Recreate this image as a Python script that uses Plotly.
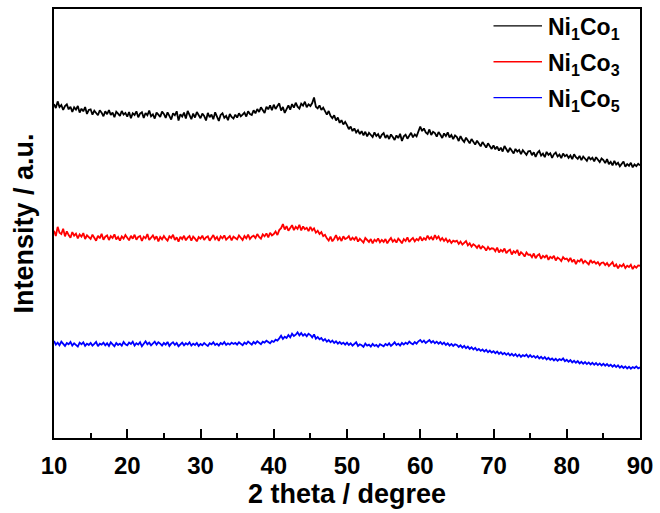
import plotly.graph_objects as go

# 2-theta sampling grid (degrees), 0.25 degree step from 10 to 90
two_theta = [10 + 0.25 * i for i in range(321)]

# Intensities (a.u.), one value per 0.25 degree (20 per 5 degrees)
ni1co1 = [
    1012, 1000, 1020, 1003, 1009, 994, 1006, 1011, 996, 1004, 988, 1002, 995, 1006, 986, 998, 990, 1003, 982, 994,
    996, 980, 992, 984, 978, 993, 986, 975, 990, 981, 994, 979, 986, 972, 989, 983, 976, 991, 980, 985,
    974, 988, 969, 984, 979, 990, 972, 983, 987, 970, 985, 978, 992, 975, 981, 968, 986, 980, 973, 989,
    982, 970, 987, 976, 965, 984, 978, 990, 962, 981, 974, 986, 968, 991, 977, 966, 983, 971, 988, 976,
    969, 983, 976, 962, 985, 972, 980, 966, 987, 974, 961, 979, 984, 970, 976, 963, 982, 973, 968, 980,
    971, 984, 975, 980, 986, 974, 990, 982, 979, 993, 984, 997, 988, 1002, 992, 985, 1004, 996, 1008, 993,
    1010, 997, 1006, 1014, 992, 1003, 985, 999, 1008, 995, 1012, 1001, 1016, 1004, 998, 1013, 1007, 1019, 1002, 1011,
    1006, 1015, 1032, 1004, 999, 1008, 994, 1001, 988, 980, 991, 976, 969, 978, 962, 971, 955, 963, 950, 958,
    948, 936, 944, 930, 938, 926, 933, 921, 930, 917, 928, 914, 925, 919, 912, 926, 915, 921, 908, 919,
    924, 909, 918, 906, 920, 912, 903, 917, 909, 922, 900, 914, 919, 907, 916, 925, 911, 920, 914, 928,
    944, 930, 938, 926, 921, 935, 918, 928, 924, 913, 927, 919, 909, 923, 915, 926, 911, 918, 906, 917,
    912, 900, 915, 904, 897, 910, 902, 893, 906, 898, 889, 901, 894, 884, 897, 888, 880, 893, 885, 876,
    887, 875, 883, 871, 880, 868, 885, 874, 866, 879, 870, 862, 876, 868, 873, 860, 872, 864, 858, 869,
    870, 857, 866, 852, 864, 870, 856, 862, 851, 867, 858, 863, 849, 860, 865, 853, 859, 848, 862, 854,
    858, 849, 856, 845, 860, 851, 846, 855, 842, 853, 848, 840, 852, 844, 849, 838, 851, 843, 836, 847,
    842, 833, 845, 830, 837, 826, 840, 829, 834, 823, 831, 838, 822, 830, 825, 834, 820, 829, 824, 831,
    826,
]
ni1co3 = [
    628, 612, 640, 622, 618, 634, 611, 626, 615, 607, 624, 613, 619, 605, 617, 610, 621, 603, 614, 609,
    603, 616, 608, 598, 613, 605, 619, 601, 610, 614, 600, 612, 606, 617, 602, 609, 598, 611, 604, 615,
    607, 599, 613, 604, 616, 601, 609, 612, 597, 610, 605, 618, 600, 608, 614, 603, 611, 596, 609, 602,
    612, 604, 598, 611, 606, 616, 600, 608, 595, 610, 603, 613, 599, 607, 612, 598, 610, 604, 596, 609,
    604, 613, 600, 608, 611, 598, 606, 615, 602, 609, 597, 611, 605, 614, 601, 608, 612, 599, 610, 606,
    602, 614, 607, 600, 612, 605, 616, 603, 610, 613, 606, 618, 609, 604, 617, 611, 620, 608, 622, 614,
    618, 626, 615, 630, 636, 648, 632, 642, 628, 638, 645, 630, 640, 634, 646, 629, 641, 633, 637, 627,
    640, 629, 635, 622, 628, 618, 624, 612, 616, 605, 598, 610, 596, 604, 615, 601, 608, 597, 611, 603,
    606, 612, 599, 607, 601, 610, 595, 604, 598, 592, 606, 600, 594, 603, 590, 601, 596, 605, 593, 600,
    594, 603, 590, 599, 606, 595, 601, 592, 604, 598, 590, 603, 597, 608, 594, 601, 606, 596, 603, 599,
    610, 598, 606, 601, 613, 603, 609, 600, 615, 604, 611, 599, 606, 597, 604, 594, 600, 591, 598, 595,
    598, 588, 595, 586, 592, 597, 584, 590, 580, 587, 583, 576, 585, 573, 581, 577, 568, 579, 571, 575,
    574, 566, 577, 562, 570, 565, 574, 560, 567, 571, 556, 566, 561, 570, 553, 563, 558, 550, 562, 555,
    556, 548, 559, 545, 553, 557, 543, 552, 547, 554, 540, 549, 545, 552, 538, 547, 543, 536, 548, 542,
    544, 536, 546, 533, 541, 527, 538, 535, 543, 530, 537, 532, 526, 539, 531, 535, 528, 533, 524, 531,
    532, 524, 530, 521, 528, 533, 519, 526, 514, 524, 520, 527, 515, 522, 518, 525, 512, 521, 516, 523,
    522,
]
ni1co5 = [
    294, 283, 289, 281, 292, 285, 279, 288, 284, 291, 280, 287, 283, 277, 289, 284, 290, 279, 286, 282,
    288, 280, 285, 291, 278, 286, 283, 289, 281, 287, 279, 290, 284, 278, 288, 282, 286, 280, 291, 284,
    281, 289, 285, 292, 280, 287, 283, 290, 278, 286, 293, 284, 289, 281, 287, 292, 283, 290, 286, 280,
    288, 283, 291, 279, 286, 290, 282, 288, 278, 285, 289, 281, 287, 283, 290, 280, 286, 282, 288, 279,
    285, 281, 288, 283, 279, 287, 284, 290, 282, 286, 280, 288, 284, 291, 282, 287, 283, 289, 285, 288,
    283, 290, 286, 281, 289, 285, 292, 287, 283, 291, 286, 293, 288, 284, 292, 289, 295, 290, 287, 294,
    291, 298, 295, 302, 310, 300, 307, 303, 312, 305, 316, 309, 313, 320, 311, 318, 310, 315, 308, 316,
    312, 305, 314, 301, 306, 299, 303, 295, 300, 292, 297, 290, 295, 288, 293, 286, 291, 285, 289, 283,
    289, 282, 287, 280, 285, 290, 279, 284, 281, 276, 286, 280, 283, 277, 285, 279, 282, 276, 284, 280,
    278, 285, 281, 287, 279, 284, 290, 282, 286, 280, 288, 283, 289, 285, 292, 287, 284, 291, 286, 293,
    297, 290, 295, 288, 293, 297, 289, 294, 287, 292, 286, 291, 284, 289, 282, 287, 280, 285, 279, 284,
    282, 276, 281, 274, 279, 272, 277, 270, 275, 268, 273, 266, 270, 264, 268, 262, 267, 260, 265, 259,
    263, 257, 262, 255, 260, 254, 258, 252, 257, 250, 255, 249, 254, 247, 253, 246, 251, 248, 253, 245,
    251, 245, 249, 243, 248, 241, 246, 240, 245, 238, 243, 237, 241, 235, 240, 234, 239, 236, 241, 233,
    237, 231, 236, 229, 234, 228, 233, 226, 231, 225, 230, 224, 229, 223, 228, 222, 227, 221, 226, 220,
    225, 219, 224, 218, 222, 216, 221, 215, 220, 213, 218, 212, 217, 211, 216, 210, 215, 212, 217, 211,
    214,
]

series_names = ["Ni<sub>1</sub>Co<sub>1</sub>",
                "Ni<sub>1</sub>Co<sub>3</sub>",
                "Ni<sub>1</sub>Co<sub>5</sub>"]
series_values = [ni1co1, ni1co3, ni1co5]
series_colors = ["#000000", "#FF0000", "#0000FF"]

FONT = "Liberation Sans, Arial, sans-serif"

fig = go.Figure()
for name, vals, col in zip(series_names, series_values, series_colors):
    fig.add_trace(go.Scatter(x=two_theta, y=vals, mode="lines", name=name,
                             line=dict(color=col, width=1.8), showlegend=False))

# Manual legend (line sample + label) in the upper right corner
W, H = 660, 513
ml, mr, mt, mb = 54, 14, 7, 75
pw, ph = W - ml - mr, H - mt - mb

def px_to_paper(xp, yp):
    return (xp - ml) / pw, (H - mb - yp) / ph

legend_rows_y = [24, 60, 96]
for name, col, yp in zip(series_names, series_colors, legend_rows_y):
    x0, y0 = px_to_paper(498, yp)
    x1, _ = px_to_paper(547, yp)
    fig.add_shape(type="line", xref="paper", yref="paper", x0=x0, x1=x1, y0=y0, y1=y0,
                  line=dict(color=col, width=1.3))
    tx, ty = px_to_paper(551, yp + 3)
    fig.add_annotation(xref="paper", yref="paper", x=tx, y=ty, text=name, showarrow=False,
                       xanchor="left", yanchor="middle",
                       font=dict(family=FONT, size=23, color="black", weight="bold"))

fig.update_layout(
    width=W, height=H,
    margin=dict(l=ml, r=mr, t=mt, b=mb),
    paper_bgcolor="white", plot_bgcolor="white",
    font=dict(family=FONT, color="black", weight="bold"),
)
fig.update_xaxes(
    range=[10, 90], dtick=10, tick0=10,
    showline=True, linecolor="black", linewidth=2, mirror=True,
    ticks="inside", ticklen=9, tickwidth=2, tickcolor="black",
    minor=dict(dtick=5, tick0=10, ticks="inside", ticklen=5, tickwidth=2, tickcolor="black"),
    showgrid=False, zeroline=False,
    tickfont=dict(family=FONT, size=24, color="black", weight="bold"),
    ticklabelstandoff=5,
    title=dict(text="2 theta / degree", standoff=6,
               font=dict(family=FONT, size=27, color="black", weight="bold")),
)
fig.update_yaxes(
    range=[0, 1300],
    showline=True, linecolor="black", linewidth=2, mirror=True,
    ticks="", showticklabels=False, showgrid=False, zeroline=False,
    title=dict(text="Intensity / a.u.", standoff=11,
               font=dict(family=FONT, size=27, color="black", weight="bold")),
)

fig.write_html("out.html")
